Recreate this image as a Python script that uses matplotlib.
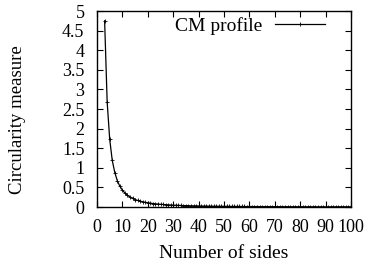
import numpy as np
import matplotlib
matplotlib.use("Agg")
import matplotlib.pyplot as plt

plt.rcParams['font.family'] = ['Liberation Serif', 'DejaVu Serif']

# number of sides of the regular polygon
sides = np.arange(3, 101)
# circularity measure
cm = np.array([
    4.75, 2.68, 1.73, 1.19, 0.88, 0.67, 0.53, 0.43, 0.355, 0.30,
    0.255, 0.22, 0.19, 0.168, 0.149, 0.133, 0.119, 0.108, 0.098, 0.089,
    0.081, 0.075, 0.069, 0.064, 0.059, 0.055, 0.051, 0.048, 0.045, 0.042,
    0.039, 0.037, 0.035, 0.033, 0.031, 0.030, 0.028, 0.027, 0.026, 0.024,
    0.023, 0.022, 0.021, 0.020, 0.019, 0.019, 0.018, 0.017, 0.017, 0.016,
    0.015, 0.015, 0.014, 0.014, 0.013, 0.013, 0.012, 0.012, 0.012, 0.011,
    0.011, 0.010, 0.010, 0.010, 0.010, 0.009, 0.009, 0.009, 0.009, 0.008,
    0.008, 0.008, 0.008, 0.007, 0.007, 0.007, 0.007, 0.007, 0.007, 0.006,
    0.006, 0.006, 0.006, 0.006, 0.006, 0.006, 0.005, 0.005, 0.005, 0.005,
    0.005, 0.006, 0.005, 0.007, 0.005, 0.006, 0.005, 0.005,
])
xticks = np.arange(0, 101, 10)
yticks = np.arange(0, 5.01, 0.5)
ylabels = ["0", "0.5", "1", "1.5", "2", "2.5", "3", "3.5", "4", "4.5", "5"]

fig = plt.figure(figsize=(3.68, 2.66), dpi=100)
ax = fig.add_axes([97/368, 1 - 207/266, 254/368, 196/266])

ax.plot(sides, cm, color='black', lw=0.9, marker='+', ms=3, mew=0.6,
        label='CM profile')

ax.set_xlim(0, 100)
ax.set_ylim(0, 5)
ax.set_xticks(xticks)
ax.set_yticks(yticks)
ax.set_yticklabels(ylabels)
ax.tick_params(direction='in', top=True, right=True, length=4, width=0.8,
               labelsize=13)
ax.tick_params(axis='y', pad=9)
ax.tick_params(axis='x', pad=9)
for s in ax.spines.values():
    s.set_linewidth(1.0)

ax.set_xlabel('Number of sides', fontsize=14, va='center', ha='center')
ax.xaxis.set_label_coords(0.5, -(253 - 207) / 196)
ax.set_ylabel('Circularity measure', fontsize=13.5, va='center', ha='center')
ax.yaxis.set_label_coords((18 - 97) / 254, 1 - (120 - 11) / 196)

leg = ax.legend(loc='upper right', frameon=False, fontsize=14,
                markerfirst=False, handlelength=2.6, borderaxespad=0.0,
                handletextpad=0.67, bbox_to_anchor=(0.93, 1.01))

fig.savefig('out.png', dpi=100)
